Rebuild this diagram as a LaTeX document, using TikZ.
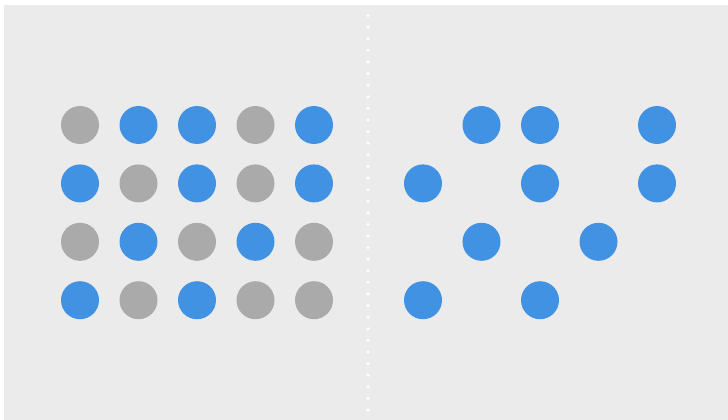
\documentclass[tikz,border=0pt]{standalone}
\definecolor{bg}{HTML}{EBEBEB}
\definecolor{dotblue}{HTML}{4192E2}
\definecolor{dotgray}{HTML}{AAAAAA}
\tikzset{
  px/.style={x=1pt,y=-1pt},
  ball/.style={circle,minimum size=38pt,inner sep=0pt,draw=none},
  blueball/.style={ball,fill=dotblue},
  grayball/.style={ball,fill=dotgray},
  divider/.style={white,line width=3.6pt,line cap=round,dash pattern=on 0pt off 11.6pt}
}
\begin{document}
\begin{tikzpicture}[px]
\useasboundingbox (0,0) rectangle (728,420);
\fill[white] (0,0) rectangle (728,420);
\fill[bg] (4,5) rectangle (728,420);
\coordinate (dtop) at (368,4);
\coordinate (dbot) at (368,424);
\draw[divider] (dtop) -- (dbot);
% left grid: 1 = blue, 0 = gray
\foreach \r/\c/\v in {
  1/1/0,1/2/1,1/3/1,1/4/0,1/5/1,
  2/1/1,2/2/0,2/3/1,2/4/0,2/5/1,
  3/1/0,3/2/1,3/3/0,3/4/1,3/5/0,
  4/1/1,4/2/0,4/3/1,4/4/0,4/5/0}{
    \pgfmathsetmacro{\xl}{80+58.5*(\c-1)}
    \pgfmathsetmacro{\xr}{423+58.5*(\c-1)}
    \pgfmathsetmacro{\yy}{125+58.4*(\r-1)}
    \ifnum\v=1
      \node[blueball] (L\r\c) at (\xl,\yy) {};
      \node[blueball] (R\r\c) at (\xr,\yy) {};
    \else
      \node[grayball] (L\r\c) at (\xl,\yy) {};
    \fi
}
\end{tikzpicture}
\end{document}
